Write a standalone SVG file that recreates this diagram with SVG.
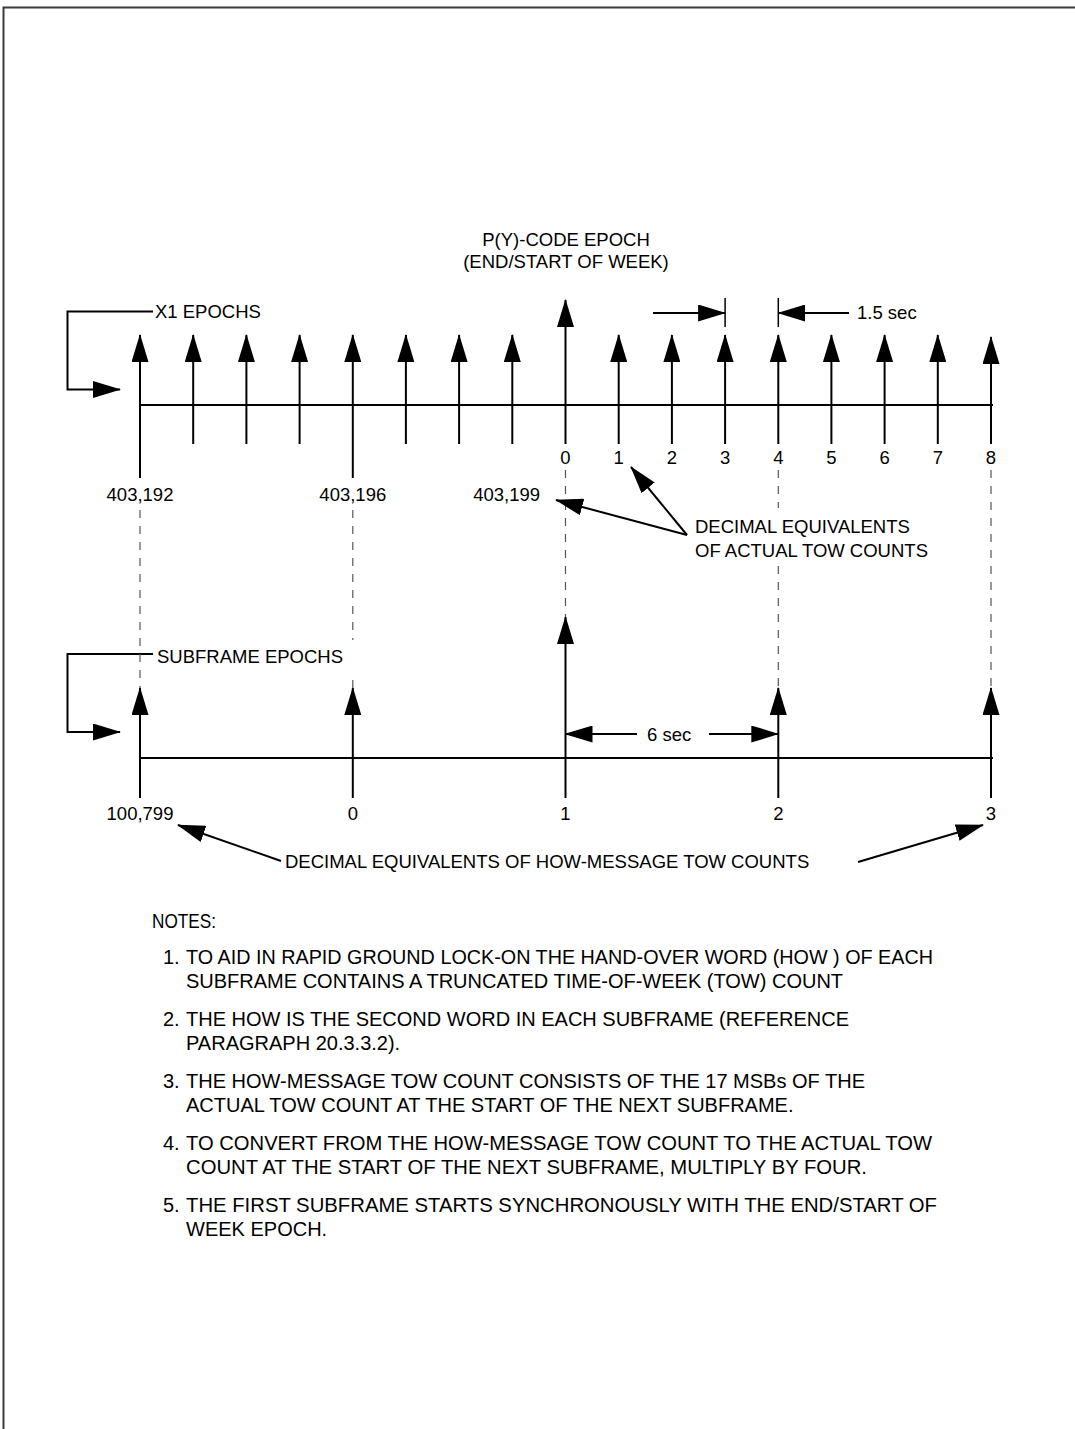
<svg xmlns="http://www.w3.org/2000/svg" width="1075" height="1429" viewBox="0 0 1075 1429">
<style>
.t{font-family:"Liberation Sans",Arial,sans-serif;font-size:18.5px;fill:#000}
.n{font-family:"Liberation Sans",Arial,sans-serif;font-size:20px;fill:#000}
.c{text-anchor:middle}
.ln{stroke:#000;stroke-width:2;fill:none}
.th{stroke:#000;stroke-width:1.5;fill:none}
.ar{stroke:#000;stroke-width:2;fill:none;marker-end:url(#ah)}
.dash{stroke:#555;stroke-width:1.2;stroke-dasharray:8 8;fill:none}
</style>
<defs>
<marker id="ah" viewBox="0 0 28 17" refX="27" refY="8.5" markerWidth="28" markerHeight="17" markerUnits="userSpaceOnUse" orient="auto">
<path d="M0,0 L28,8.5 L0,17 Z" fill="#000"/>
</marker>
</defs>
<rect width="1075" height="1429" fill="#fff"/>
<path d="M3.5,1429 V7.5 H1075" stroke="#3a3a3a" stroke-width="2" fill="none"/>

<g id="title">
<text class="t c" x="566" y="246">P(Y)-CODE EPOCH</text>
<text class="t c" x="566" y="268">(END/START OF WEEK)</text>
</g>

<g id="x1-epochs-label">
<text class="t" x="155" y="318">X1 EPOCHS</text>
</g>

<g id="top-axis">
<line class="ln" x1="140" y1="405" x2="993" y2="405"/>
</g>

<g id="top-ticks">
<line class="ar" x1="140" y1="478" x2="140" y2="335"/>
<line class="ar" x1="193.2" y1="444" x2="193.2" y2="335"/>
<line class="ar" x1="246.4" y1="444" x2="246.4" y2="335"/>
<line class="ar" x1="299.6" y1="444" x2="299.6" y2="335"/>
<line class="ar" x1="352.8" y1="478" x2="352.8" y2="335"/>
<line class="ar" x1="405.9" y1="444" x2="405.9" y2="335"/>
<line class="ar" x1="459.1" y1="444" x2="459.1" y2="335"/>
<line class="ar" x1="512.3" y1="444" x2="512.3" y2="335"/>
<line class="ar" x1="565.5" y1="444" x2="565.5" y2="300"/>
<line class="ar" x1="618.7" y1="444" x2="618.7" y2="335"/>
<line class="ar" x1="671.9" y1="444" x2="671.9" y2="335"/>
<line class="ar" x1="725.1" y1="444" x2="725.1" y2="335"/>
<line class="ar" x1="778.3" y1="444" x2="778.3" y2="335"/>
<line class="ar" x1="831.4" y1="444" x2="831.4" y2="335"/>
<line class="ar" x1="884.6" y1="444" x2="884.6" y2="335"/>
<line class="ar" x1="937.8" y1="444" x2="937.8" y2="335"/>
<line class="ar" x1="991" y1="444" x2="991" y2="337"/>
</g>

<g id="top-numbers">
<text class="t c" x="565.5" y="463.5">0</text>
<text class="t c" x="618.7" y="463.5">1</text>
<text class="t c" x="671.9" y="463.5">2</text>
<text class="t c" x="725.1" y="463.5">3</text>
<text class="t c" x="778.3" y="463.5">4</text>
<text class="t c" x="831.4" y="463.5">5</text>
<text class="t c" x="884.6" y="463.5">6</text>
<text class="t c" x="937.8" y="463.5">7</text>
<text class="t c" x="991" y="463.5">8</text>
<text class="t c" x="140" y="501">403,192</text>
<text class="t c" x="352.8" y="501">403,196</text>
<text class="t" x="540" y="501" text-anchor="end">403,199</text>
</g>

<g id="dim-1-5-sec">
<line class="th" x1="725.1" y1="298" x2="725.1" y2="327"/>
<line class="th" x1="778.3" y1="298" x2="778.3" y2="327"/>
<line class="ar" x1="653" y1="313" x2="725.1" y2="313"/>
<line class="ar" x1="849" y1="313" x2="778.3" y2="313"/>
<text class="t" x="857" y="319">1.5 sec</text>
</g>

<g id="actual-tow-label">
<text class="t" x="695" y="533">DECIMAL EQUIVALENTS</text>
<text class="t" x="695" y="557">OF ACTUAL TOW COUNTS</text>
</g>

<g id="subframe-epochs-label">
<text class="t" x="157" y="663">SUBFRAME EPOCHS</text>
</g>

<g id="bottom-axis">
<line class="ln" x1="140" y1="758" x2="993" y2="758"/>
</g>

<g id="bottom-ticks">
<line class="ar" x1="140" y1="798" x2="140" y2="688"/>
<line class="ar" x1="352.8" y1="798" x2="352.8" y2="688"/>
<line class="ar" x1="565.5" y1="798" x2="565.5" y2="617"/>
<line class="ar" x1="778.3" y1="798" x2="778.3" y2="688"/>
<line class="ar" x1="991" y1="798" x2="991" y2="688"/>
</g>

<g id="bottom-numbers">
<text class="t c" x="140" y="820">100,799</text>
<text class="t c" x="352.8" y="820">0</text>
<text class="t c" x="565.5" y="820">1</text>
<text class="t c" x="778.3" y="820">2</text>
<text class="t c" x="991" y="820">3</text>
</g>

<g id="dim-6-sec">
<line class="ar" x1="637" y1="734" x2="565.5" y2="734"/>
<line class="ar" x1="709" y1="734" x2="778.3" y2="734"/>
<text class="t" x="647" y="741">6 sec</text>
</g>

<g id="how-tow-label">
<text class="t" x="285" y="868">DECIMAL EQUIVALENTS OF HOW-MESSAGE TOW COUNTS</text>
</g>

<g id="connectors">
<path class="ln" d="M153,311.5 H67.5 V389.5 H120" marker-end="url(#ah)"/>
<path class="ln" d="M153,654 H67.5 V732 H120" marker-end="url(#ah)"/>
<line class="dash" x1="140" y1="510" x2="140" y2="688"/>
<line class="dash" x1="352.8" y1="510" x2="352.8" y2="640"/>
<line class="dash" x1="352.8" y1="680" x2="352.8" y2="688"/>
<line class="dash" x1="565.5" y1="470" x2="565.5" y2="617"/>
<line class="dash" x1="778.3" y1="470" x2="778.3" y2="508"/>
<line class="dash" x1="778.3" y1="566" x2="778.3" y2="688"/>
<line class="dash" x1="991" y1="470" x2="991" y2="688"/>
<line class="ar" x1="687" y1="535" x2="556" y2="500"/>
<line class="ar" x1="687" y1="535" x2="631" y2="467"/>
<line class="ar" x1="281" y1="861" x2="178" y2="825"/>
<line class="ar" x1="858" y1="862" x2="983" y2="825"/>
</g>

<g id="notes">
<text class="n" x="152" y="928" textLength="64" lengthAdjust="spacingAndGlyphs">NOTES:</text>
<text class="n" x="163" y="964">1.</text>
<text class="n" x="186" y="964" textLength="747" lengthAdjust="spacingAndGlyphs">TO AID IN RAPID GROUND LOCK-ON THE HAND-OVER WORD (HOW ) OF EACH</text>
<text class="n" x="186" y="988">SUBFRAME CONTAINS A TRUNCATED TIME-OF-WEEK (TOW) COUNT</text>
<text class="n" x="163" y="1026">2.</text>
<text class="n" x="186" y="1026">THE HOW IS THE SECOND WORD IN EACH SUBFRAME (REFERENCE</text>
<text class="n" x="186" y="1050">PARAGRAPH 20.3.3.2).</text>
<text class="n" x="163" y="1088">3.</text>
<text class="n" x="186" y="1088">THE HOW-MESSAGE TOW COUNT CONSISTS OF THE 17 MSBs OF THE</text>
<text class="n" x="186" y="1112">ACTUAL TOW COUNT AT THE START OF THE NEXT SUBFRAME.</text>
<text class="n" x="163" y="1150">4.</text>
<text class="n" x="186" y="1150" textLength="746" lengthAdjust="spacingAndGlyphs">TO CONVERT FROM THE HOW-MESSAGE TOW COUNT TO THE ACTUAL TOW</text>
<text class="n" x="186" y="1174" textLength="681" lengthAdjust="spacingAndGlyphs">COUNT AT THE START OF THE NEXT SUBFRAME, MULTIPLY BY FOUR.</text>
<text class="n" x="163" y="1212">5.</text>
<text class="n" x="186" y="1212" textLength="751" lengthAdjust="spacingAndGlyphs">THE FIRST SUBFRAME STARTS SYNCHRONOUSLY WITH THE END/START OF</text>
<text class="n" x="186" y="1236">WEEK EPOCH.</text>
</g>
</svg>
